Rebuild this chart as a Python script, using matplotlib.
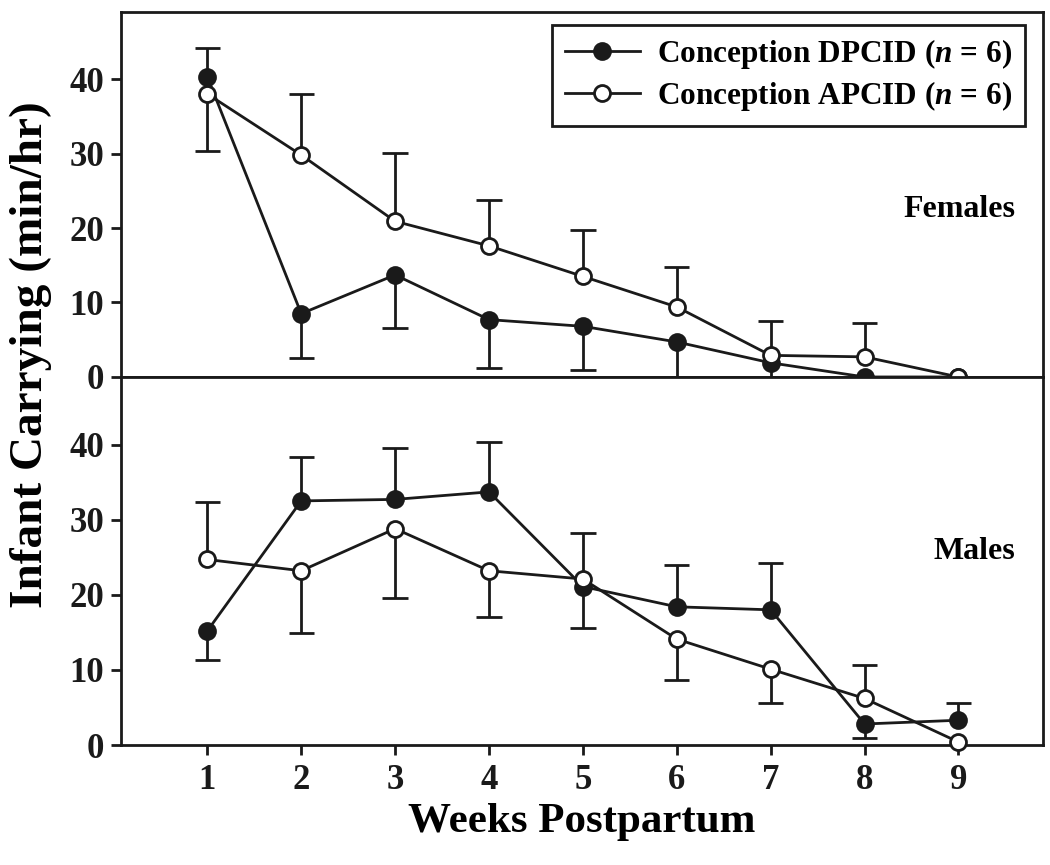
import numpy as np
import matplotlib
matplotlib.use("Agg")
import matplotlib.pyplot as plt

# fonts: bold serif like the journal figure
plt.rcParams['font.family'] = ['Liberation Serif', 'DejaVu Serif']
plt.rcParams['font.weight'] = 'bold'
plt.rcParams['mathtext.fontset'] = 'custom'
plt.rcParams['mathtext.it'] = 'Liberation Serif:italic:bold'
plt.rcParams['mathtext.rm'] = 'Liberation Serif:bold'

# data
weeks = [1, 2, 3, 4, 5, 6, 7, 8, 9]

# Females
fem_dpcid = [40.3, 8.5, 13.7, 7.7, 6.8, 4.7, 1.9, 0.0, 0.0]
fem_dpcid_lo = [0.0, 5.9, 7.1, 6.5, 5.8, 5.5, 2.5, 0.0, 0.0]
fem_dpcid_hi = [3.9, 0.0, 0.0, 0.0, 0.0, 0.0, 0.0, 0.0, 0.0]
fem_apcid = [38.0, 29.8, 20.9, 17.6, 13.5, 9.4, 2.9, 2.7, 0.0]
fem_apcid_lo = [7.7, 0.0, 0.0, 0.0, 0.0, 0.0, 0.0, 0.0, 0.0]
fem_apcid_hi = [0.0, 8.2, 9.2, 6.2, 6.2, 5.4, 4.6, 4.5, 0.0]

# Males
mal_dpcid = [15.2, 32.5, 32.7, 33.7, 21.1, 18.4, 18.0, 2.8, 3.3]
mal_dpcid_lo = [3.9, 0.0, 0.0, 0.0, 5.5, 0.0, 0.0, 1.8, 0.0]
mal_dpcid_hi = [0.0, 5.9, 6.9, 6.6, 0.0, 5.6, 6.2, 0.0, 2.3]
mal_apcid = [24.7, 23.2, 28.8, 23.2, 22.1, 14.1, 10.1, 6.2, 0.4]
mal_apcid_lo = [0.0, 8.3, 9.2, 6.2, 0.0, 5.4, 4.5, 0.0, 0.0]
mal_apcid_hi = [7.7, 0.0, 0.0, 0.0, 6.1, 0.0, 0.0, 4.5, 0.0]

ink = '#1a1a1a'
cap_half = 0.135  # half cap width in week units

fig = plt.figure(figsize=(10.5, 8.65), dpi=100)
ax_top = fig.add_axes([0.1152, 0.5642, 0.8781, 0.4219])
ax_bot = fig.add_axes([0.1152, 0.1387, 0.8781, 0.4255])


def one_sided_bars(ax, mean, lo, hi):
    # only draw the side of the bar that is non zero, like the original
    x = np.array(weeks, dtype=float)
    m = np.array(mean)
    lo = np.array(lo)
    hi = np.array(hi)
    up = hi > 0
    dn = lo > 0
    ax.vlines(x[up], m[up], m[up] + hi[up], color=ink, lw=2, zorder=2)
    ax.hlines(m[up] + hi[up], x[up] - cap_half, x[up] + cap_half,
              color=ink, lw=2, zorder=2)
    ax.vlines(x[dn], m[dn] - lo[dn], m[dn], color=ink, lw=2, zorder=2)
    ax.hlines(m[dn] - lo[dn], x[dn] - cap_half, x[dn] + cap_half,
              color=ink, lw=2, zorder=2)


def draw_panel(ax, d_mean, d_lo, d_hi, a_mean, a_lo, a_hi):
    one_sided_bars(ax, d_mean, d_lo, d_hi)
    one_sided_bars(ax, a_mean, a_lo, a_hi)
    ax.plot(weeks, d_mean, color=ink, lw=2, marker='o', ms=12,
            mfc=ink, mec=ink, mew=1.5, clip_on=False, zorder=3,
            label='Conception DPCID ($n$ = 6)')
    ax.plot(weeks, a_mean, color=ink, lw=2, marker='o', ms=11.5,
            mfc='white', mec=ink, mew=2, clip_on=False, zorder=4,
            label='Conception APCID ($n$ = 6)')
    ax.set_xlim(0.08, 9.9)
    ax.set_ylim(0, 49)
    ax.set_yticks([0, 10, 20, 30, 40])
    for s in ax.spines.values():
        s.set_linewidth(2)
        s.set_color(ink)
    ax.tick_params(axis='y', direction='out', length=7, width=2,
                   labelsize=25, pad=5, colors=ink)


draw_panel(ax_top, fem_dpcid, fem_dpcid_lo, fem_dpcid_hi,
           fem_apcid, fem_apcid_lo, fem_apcid_hi)
draw_panel(ax_bot, mal_dpcid, mal_dpcid_lo, mal_dpcid_hi,
           mal_apcid, mal_apcid_lo, mal_apcid_hi)

# top panel: no x ticks
ax_top.set_xticks([])
ax_bot.set_xticks(weeks)
ax_bot.tick_params(axis='x', direction='out', length=7, width=2,
                   labelsize=25, pad=7, colors=ink)

# panel labels
ax_top.text(0.97, 0.46, 'Females', transform=ax_top.transAxes,
            ha='right', va='center', fontsize=23, fontweight='bold')
ax_bot.text(0.97, 0.525, 'Males', transform=ax_bot.transAxes,
            ha='right', va='center', fontsize=23, fontweight='bold')

leg = ax_top.legend(loc='upper right', bbox_to_anchor=(0.98, 0.965),
                    fontsize=22.5, frameon=True, fancybox=False,
                    handlelength=2.4, handletextpad=0.55,
                    borderpad=0.4, labelspacing=0.25, borderaxespad=0)
leg.get_frame().set_edgecolor(ink)
leg.get_frame().set_linewidth(2)
leg.get_frame().set_alpha(1)

fig.text(0.029, 0.59, 'Infant Carrying (min/hr)', rotation=90,
         ha='center', va='center', fontsize=34, fontweight='bold')
fig.text(0.554, 0.05, 'Weeks Postpartum', ha='center', va='center',
         fontsize=31, fontweight='bold')

fig.savefig('out.png', dpi=100)
